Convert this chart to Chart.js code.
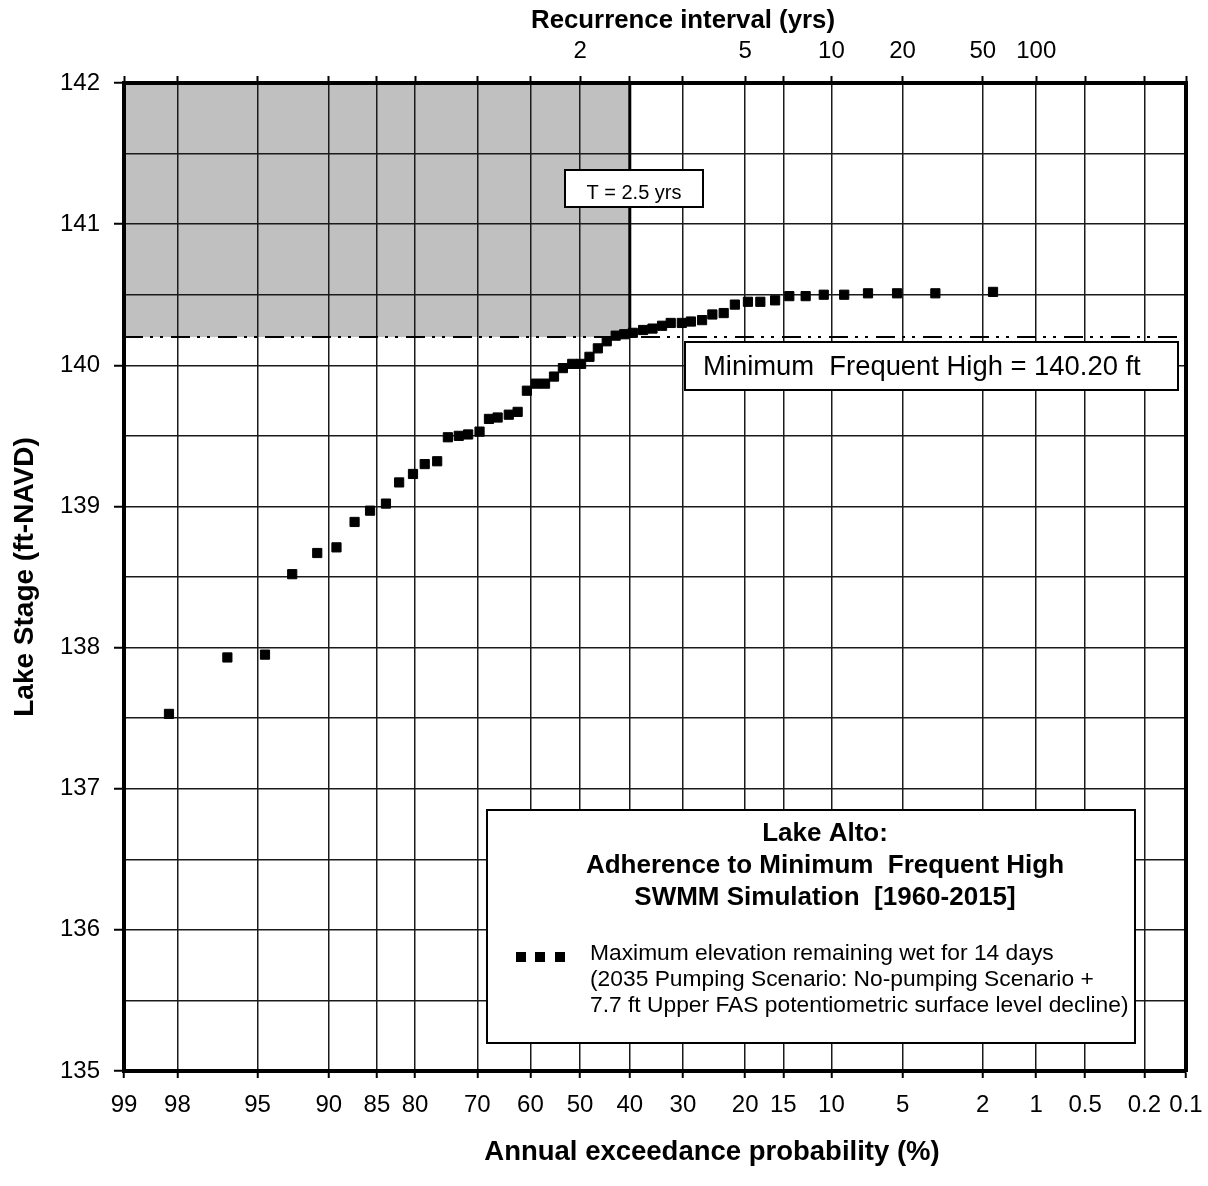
<!DOCTYPE html>
<html><head><meta charset="utf-8">
<script src="https://cdn.jsdelivr.net/npm/chart.js@4.4.1/dist/chart.umd.min.js"></script>
<style>html,body{margin:0;padding:0;background:#fff;}#wrap{width:1208px;height:1186px;}</style>
</head><body><div id="wrap"><canvas id="c" width="1208" height="1186"></canvas></div>
<script>
// ---- data ----
const probTicks = [99, 98, 95, 90, 85, 80, 70, 60, 50, 40, 30, 20, 15, 10, 5, 2, 1, 0.5, 0.2, 0.1];
const probTickLabels = ["99","98","95","90","85","80","70","60","50","40","30","20","15","10","5","2","1","0.5","0.2","0.1"];
const recurrenceTicks = [2, 5, 10, 20, 50, 100];
const stageMin = 135, stageMax = 142;
const exceedancePct = [98.2, 96.4, 94.6, 92.9, 91.0, 89.3, 87.5, 85.8, 83.9, 82.2, 80.3, 78.6, 76.7, 75.0, 73.2, 71.6, 69.6, 67.9, 66.3,
  64.2, 62.5, 60.7, 58.9, 57.1, 55.3, 53.5, 51.6, 49.8, 48.1, 46.4, 44.6, 42.8, 41.1, 39.4, 37.4, 35.6, 33.8, 32.2, 30.2, 28.6,
  26.7, 25.0, 23.2, 21.5, 19.6, 17.9, 16.0, 14.3, 12.5, 10.7, 8.9, 7.1, 5.3, 3.5, 1.76];
const lakeStage = [137.53, 137.93, 137.95, 138.52, 138.67, 138.71, 138.89, 138.97, 139.02, 139.17, 139.23, 139.30, 139.32, 139.49, 139.50, 139.51, 139.53, 139.62, 139.63,
  139.65, 139.67, 139.82, 139.87, 139.87, 139.92, 139.98, 140.01, 140.01, 140.06, 140.12, 140.17, 140.21, 140.22, 140.23, 140.25, 140.26, 140.28, 140.30, 140.30, 140.31,
  140.32, 140.36, 140.37, 140.43, 140.45, 140.45, 140.46, 140.49, 140.49, 140.50, 140.50, 140.51, 140.51, 140.51, 140.52];
const mfhStage = 140.20;
const mfhRecurrence = 2.5;
const seriesLabel = "Maximum elevation remaining wet for 14 days";
const legendTitle = ["Lake Alto:", "Adherence to Minimum  Frequent High", "SWMM Simulation  [1960-2015]"];
const legendText = ["Maximum elevation remaining wet for 14 days", "(2035 Pumping Scenario: No-pumping Scenario +", "7.7 ft Upper FAS potentiometric surface level decline)"];
const mfhText = "Minimum  Frequent High = 140.20 ft";
const tText = "T = 2.5 yrs";

// ---- normal probability transform ----
function normInv(p){
  const a=[-3.969683028665376e+01,2.209460984245205e+02,-2.759285104469687e+02,1.383577518672690e+02,-3.066479806614716e+01,2.506628277459239e+00];
  const b=[-5.447609879822406e+01,1.615858368580409e+02,-1.556989798598866e+02,6.680131188771972e+01,-1.328068155288572e+01];
  const c=[-7.784894002430293e-03,-3.223964580411365e-01,-2.400758277161838e+00,-2.549732539343734e+00,4.374664141464968e+00,2.938163982698783e+00];
  const d=[7.784695709041462e-03,3.224671290700398e-01,2.445134137142996e+00,3.754408661907416e+00];
  const pl=0.02425, ph=1-pl; let q,r;
  if(p<pl){q=Math.sqrt(-2*Math.log(p));return (((((c[0]*q+c[1])*q+c[2])*q+c[3])*q+c[4])*q+c[5])/((((d[0]*q+d[1])*q+d[2])*q+d[3])*q+1);}
  if(p<=ph){q=p-0.5;r=q*q;return (((((a[0]*r+a[1])*r+a[2])*r+a[3])*r+a[4])*r+a[5])*q/(((((b[0]*r+b[1])*r+b[2])*r+b[3])*r+b[4])*r+1);}
  q=Math.sqrt(-2*Math.log(1-p));return -(((((c[0]*q+c[1])*q+c[2])*q+c[3])*q+c[4])*q+c[5])/((((d[0]*q+d[1])*q+d[2])*q+d[3])*q+1);
}
const toU = pct => normInv(1 - pct/100);
const xMin = toU(probTicks[0]), xMax = toU(probTicks[probTicks.length-1]);
const FONT = "'Liberation Sans', Arial, Helvetica, sans-serif";

const overlay = {
  id: 'overlay',
  beforeDraw(chart){
    const {ctx, chartArea:a, scales:{x, y}} = chart;
    ctx.save();
    ctx.fillStyle = '#fff'; ctx.fillRect(0,0,chart.width,chart.height);
    const xr = x.getPixelForValue(toU(100/mfhRecurrence));
    const ym = y.getPixelForValue(mfhStage);
    ctx.fillStyle = '#c0c0c0';
    ctx.fillRect(a.left, a.top, xr - a.left, ym - a.top);
    ctx.restore();
  },
  beforeDatasetsDraw(chart){
    const {ctx, chartArea:a, scales:{x, y}} = chart;
    const xr = x.getPixelForValue(toU(100/mfhRecurrence));
    const ym = y.getPixelForValue(mfhStage);
    ctx.save();
    ctx.strokeStyle = '#000'; ctx.lineWidth = 2;
    ctx.setLineDash([19,7,3,7,3,8]);
    ctx.beginPath(); ctx.moveTo(a.left, ym); ctx.lineTo(a.right, ym); ctx.stroke();
    ctx.setLineDash([]); ctx.lineWidth = 3;
    ctx.beginPath(); ctx.moveTo(xr, a.top); ctx.lineTo(xr, ym); ctx.stroke();
    ctx.restore();
  },
  afterDatasetsDraw(chart){
    const {ctx} = chart;
    ctx.save();
    ctx.fillStyle = '#000'; ctx.textBaseline = 'middle';
    // T box
    ctx.fillStyle = '#fff'; ctx.fillRect(565,170,138,37);
    ctx.strokeStyle = '#000'; ctx.lineWidth = 2; ctx.strokeRect(565,170,138,37);
    ctx.fillStyle = '#000'; ctx.font = "20px " + FONT; ctx.textAlign = 'center';
    ctx.fillText(tText, 634, 193);
    // MFH box
    ctx.fillStyle = '#fff'; ctx.fillRect(685,342,493,48);
    ctx.strokeRect(685,342,493,48);
    ctx.fillStyle = '#000'; ctx.font = "27.4px " + FONT; ctx.textAlign = 'left';
    ctx.fillText(mfhText, 703, 367);
    // legend box
    ctx.fillStyle = '#fff'; ctx.fillRect(487,810,648,233);
    ctx.strokeRect(487,810,648,233);
    ctx.fillStyle = '#000'; ctx.font = "bold 26px " + FONT; ctx.textAlign = 'center';
    legendTitle.forEach((t,i)=>ctx.fillText(t, 825, 834 + i*32));
    [521,540,560].forEach(px=>ctx.fillRect(px-5, 952, 10, 10));
    ctx.font = "22.8px " + FONT; ctx.textAlign = 'left';
    legendText.forEach((t,i)=>ctx.fillText(t, 590, 954 + i*26));
    // horizontal axis titles
    ctx.font = "bold 27.5px " + FONT; ctx.textAlign = 'center';
    ctx.fillText(chart.options.scales.x.title.text, 712, 1152);
    ctx.font = "bold 25.8px " + FONT;
    ctx.fillText(chart.options.scales.x2.title.text, 683, 21);
    ctx.restore();
  }
};

const tickFont = {family: FONT, size: 24};
const noEdgePad = s => { s.paddingLeft = 0; s.paddingRight = 0; };
new Chart(document.getElementById('c'), {
  type: 'scatter',
  data: {datasets: [{
    label: seriesLabel,
    data: exceedancePct.map((p,i)=>({x: toU(p), y: lakeStage[i]})),
    pointStyle: 'rect', radius: 6.5, backgroundColor: '#000', borderColor: '#000', borderWidth: 1,
    xAxisID: 'x', yAxisID: 'y'
  }]},
  options: {
    responsive: false, animation: false, devicePixelRatio: 1,
    layout: {padding: 0},
    plugins: {legend: {display: false}, tooltip: {enabled: false}},
    scales: {
      x: {
        type: 'linear', position: 'bottom', min: xMin, max: xMax,
        afterBuildTicks: s => { s.ticks = probTicks.map(p => ({value: toU(p)})); },
        afterFit: s => { s.height = 115; noEdgePad(s); },
        ticks: {callback: (v,i) => probTickLabels[i], autoSkip: false, maxRotation: 0, minRotation: 0, padding: 13, color: '#000', font: tickFont},
        grid: {color: '#1a1a1a', lineWidth: 1.5, tickLength: 7, tickColor: '#000', tickWidth: 2},
        border: {color: '#000', width: 4},
        title: {display: false, text: 'Annual exceedance probability (%)'}
      },
      x2: {
        type: 'linear', position: 'top', min: xMin, max: xMax,
        afterBuildTicks: s => { s.ticks = probTicks.map(p => ({value: toU(p)})); },
        afterFit: s => { s.height = 83; noEdgePad(s); },
        ticks: {callback: (v,i) => { const p = probTicks[i]; const T = recurrenceTicks.find(t => Math.abs(100/t - p) < 1e-9); return T === undefined ? '' : String(T); },
                autoSkip: false, maxRotation: 0, minRotation: 0, padding: 10, color: '#000', font: tickFont},
        grid: {drawOnChartArea: false, tickLength: 7, tickColor: '#000', tickWidth: 2},
        border: {color: '#000', width: 4},
        title: {display: false, text: 'Recurrence interval (yrs)'}
      },
      y: {
        type: 'linear', position: 'left', min: stageMin, max: stageMax,
        afterFit: s => { s.width = 124; s.paddingTop = 0; s.paddingBottom = 0; },
        ticks: {stepSize: 0.5, callback: v => Number.isInteger(v) ? String(v) : '', padding: 14, color: '#000', font: tickFont},
        grid: {color: '#1a1a1a', lineWidth: 1.5, tickLength: 10, tickWidth: 2,
               tickColor: c => (c.tick && Number.isInteger(c.tick.value)) ? '#000' : 'rgba(0,0,0,0)'},
        border: {color: '#000', width: 4},
        title: {display: true, text: 'Lake Stage (ft-NAVD)', color: '#000', font: {family: FONT, size: 28, weight: 'bold'}, padding: {top: 8, bottom: 0}}
      },
      y2: {
        type: 'linear', position: 'right', min: stageMin, max: stageMax,
        afterFit: s => { s.width = 22; s.paddingTop = 0; s.paddingBottom = 0; },
        ticks: {display: false},
        grid: {drawOnChartArea: false, drawTicks: false},
        border: {color: '#000', width: 4}
      }
    }
  },
  plugins: [overlay]
});
</script></body></html>
